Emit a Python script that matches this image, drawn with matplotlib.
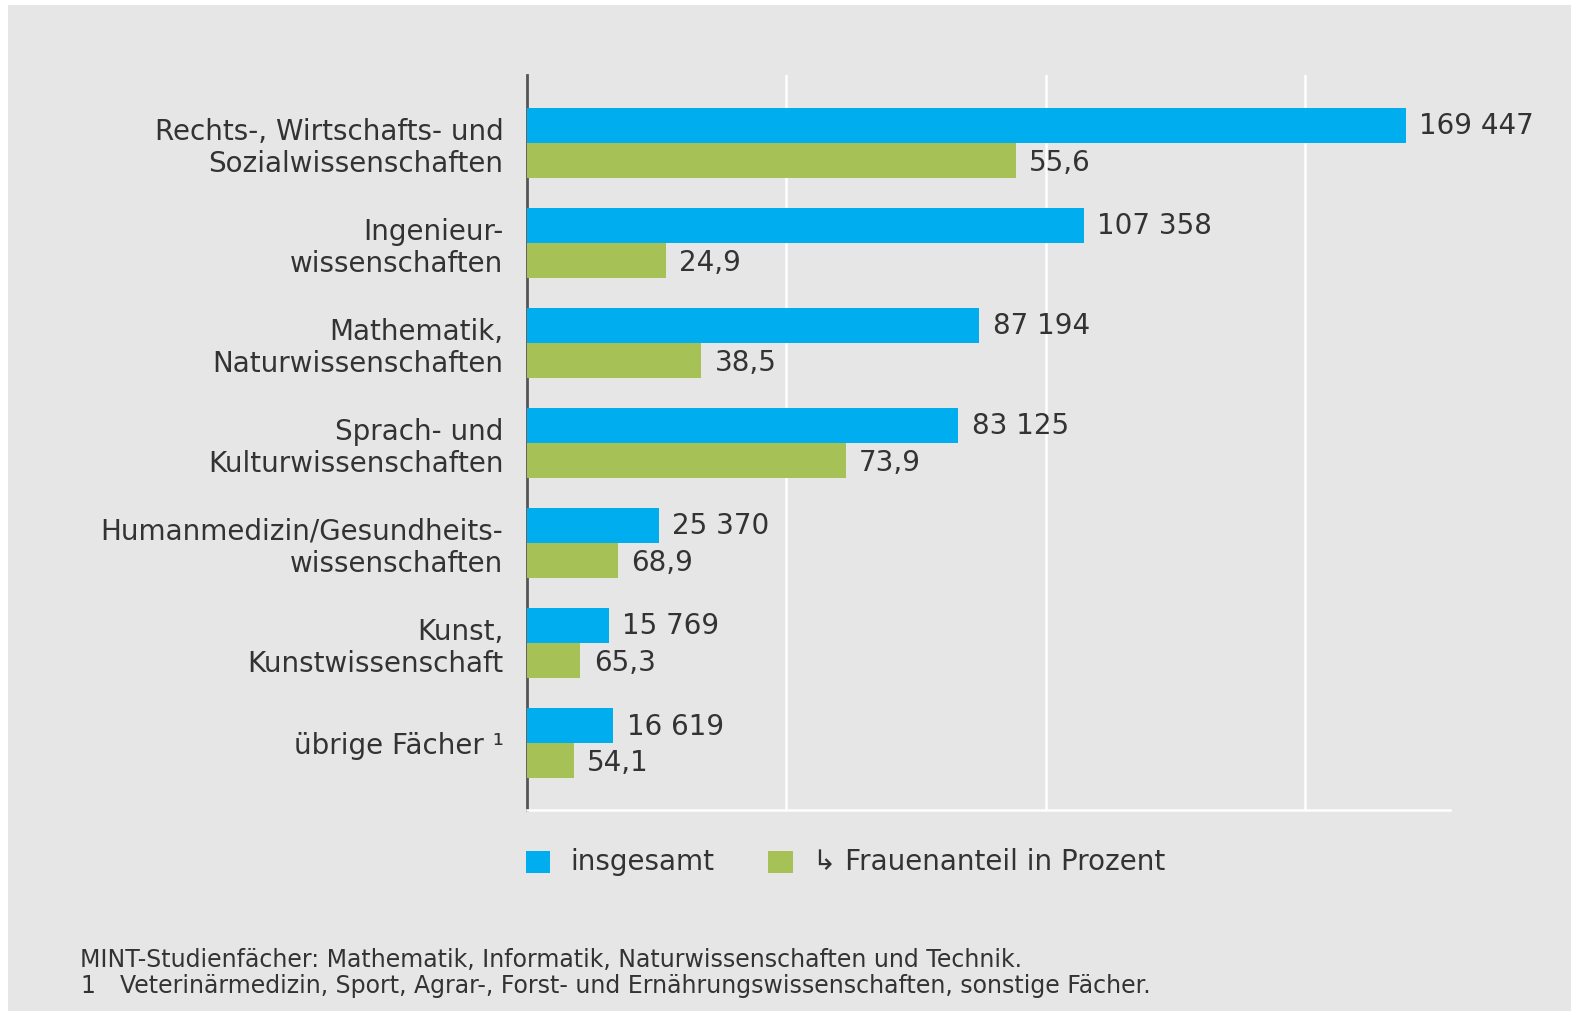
import matplotlib.pyplot as plt
from matplotlib.patches import Rectangle

# Daten
kategorien = [
    "Rechts-, Wirtschafts- und\nSozialwissenschaften",
    "Ingenieur-\nwissenschaften",
    "Mathematik,\nNaturwissenschaften",
    "Sprach- und\nKulturwissenschaften",
    "Humanmedizin/Gesundheits-\nwissenschaften",
    "Kunst,\nKunstwissenschaft",
    "übrige Fächer ¹",
]
insgesamt = [169447, 107358, 87194, 83125, 25370, 15769, 16619]
frauenanteil = [55.6, 24.9, 38.5, 73.9, 68.9, 65.3, 54.1]
gitter = [50000, 100000, 150000]

# Frauen absolut = insgesamt * Anteil
frauen = [n * p / 100 for n, p in zip(insgesamt, frauenanteil)]

BLAU = "#00aeef"
GRUEN = "#a6c256"
HG = "#e6e6e6"
TXT = "#333333"

plt.rcParams["font.family"] = ["DejaVu Sans"]

W, H = 1571, 1011
fig = plt.figure(figsize=(W / 100, H / 100), dpi=100, facecolor="white")
fig.patches.append(Rectangle((8 / W, 0), 1, 1 - 5 / H, transform=fig.transFigure,
                             facecolor=HG, edgecolor="none", zorder=-10))

ax = fig.add_axes([527 / W, 1 - 810 / H, (1450 - 527) / W, (810 - 75) / H])
ax.patch.set_alpha(0)

h = 0.35
y = list(range(len(kategorien)))
ax.barh([i - h / 2 for i in y], insgesamt, height=h, color=BLAU, zorder=3)
ax.barh([i + h / 2 for i in y], frauen, height=h, color=GRUEN, zorder=3)

ax.set_xlim(0, 178000)
ax.set_ylim(len(kategorien) - 1 + 0.67, -0.68)

for g in gitter:
    ax.axvline(g, color="white", lw=1.8, zorder=1)

off = 2600
for i in y:
    ax.text(insgesamt[i] + off, i - h / 2 + 0.01, f"{insgesamt[i]:,}".replace(",", " "),
            va="center", ha="left", fontsize=20, color=TXT)
    ax.text(frauen[i] + off, i + h / 2 + 0.02, f"{frauenanteil[i]:.1f}".replace(".", ","),
            va="center", ha="left", fontsize=20, color=TXT)

ax.set_yticks(y)
ax.set_yticklabels(kategorien, fontsize=20, color=TXT, linespacing=1.18)
ax.tick_params(axis="y", length=0, pad=17)
ax.set_xticks([])

for s in ["top", "right"]:
    ax.spines[s].set_visible(False)
ax.spines["left"].set_color("#555555")
ax.spines["left"].set_linewidth(2)
ax.spines["bottom"].set_color("white")
ax.spines["bottom"].set_linewidth(1.8)

# Legende
ly = 1 - 873 / H
fig.patches.append(Rectangle((526 / W, ly), 24 / W, 22 / H, transform=fig.transFigure,
                             facecolor=BLAU, edgecolor="none"))
fig.text(570 / W, 1 - 862 / H, "insgesamt", fontsize=20, color=TXT, va="center")
fig.patches.append(Rectangle((768 / W, ly), 25 / W, 22 / H, transform=fig.transFigure,
                             facecolor=GRUEN, edgecolor="none"))
fig.text(813 / W, 1 - 862 / H, "↳ Frauenanteil in Prozent", fontsize=20, color=TXT,
         va="center")

# Fußnoten
fig.text(80 / W, 1 - 960 / H,
         "MINT-Studienfächer: Mathematik, Informatik, Naturwissenschaften und Technik.",
         fontsize=17, color=TXT, va="center")
fig.text(80 / W, 1 - 986 / H, "1", fontsize=17, color=TXT, va="center")
fig.text(120 / W, 1 - 986 / H,
         "Veterinärmedizin, Sport, Agrar-, Forst- und Ernährungswissenschaften, sonstige Fächer.",
         fontsize=17, color=TXT, va="center")

fig.savefig("out.png", dpi=100, facecolor=fig.get_facecolor())
